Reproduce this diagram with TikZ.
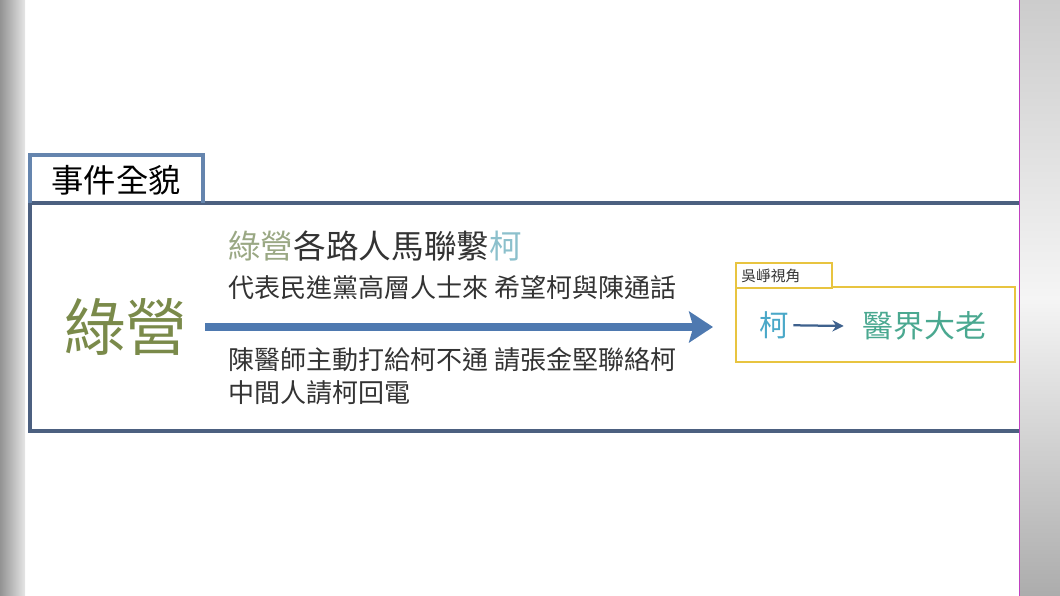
\documentclass[tikz,border=0pt]{standalone}
\usepackage{fontspec}
\setmainfont{Noto Sans CJK TC}
\usetikzlibrary{arrows.meta,positioning}

\definecolor{frameblue}{HTML}{4C6080}
\definecolor{tabblue}{HTML}{6585AE}
\definecolor{arrowblue}{HTML}{4E79B0}
\definecolor{olive}{HTML}{7A8A4A}
\definecolor{paleolive}{HTML}{9AA884}
\definecolor{palecyan}{HTML}{8CC0CC}
\definecolor{kocyan}{HTML}{4AA8C8}
\definecolor{docgreen}{HTML}{4AA890}
\definecolor{gold}{HTML}{E8C440}
\definecolor{textgray}{HTML}{333333}
\definecolor{edgepink}{HTML}{C040C0}

\tikzset{
    line/.style={inner sep=0pt, anchor=west, text=textgray},
    goldbox/.style={draw=gold, line width=1.8pt},
}

\begin{document}
\begin{tikzpicture}[x=0.025cm,y=-0.025cm]
    \useasboundingbox (0,0) rectangle (1060,596);
    % side strips
    \shade[left color=gray!85, right color=gray!20] (0,0) rectangle (25,596);
    \shade[top color=gray!40, bottom color=gray!65, middle color=gray!8] (1020,0) rectangle (1060,596);
    \draw[edgepink, line width=1pt] (1019.5,0) -- (1019.5,596);

    % frame and tab
    \draw[frameblue, line width=2.6pt] (1019,203) -- (30,203) -- (30,431) -- (1019,431);
    \draw[tabblue, line width=2.6pt] (30,203) -- (30,155) -- (203,155) -- (203,203);
    \node (tab) at (116,180) {\fontsize{23}{23}\selectfont 事件全貌};

    % left side
    \node[text=olive] (green) at (126,327) {\fontsize{44}{44}\selectfont 綠營};
    \coordinate (tip) at (713,327);
    \draw[arrowblue, line width=5pt, -{Stealth[length=17pt, width=22pt, inset=3pt]}]
        (205,327) -- (tip);

    \node[line] (head) at (228,246) {\fontsize{23.2}{23.2}\selectfont
        \textcolor{paleolive}{綠營}各路人馬聯繫\textcolor{palecyan}{柯}};
    \node[line] (above) at (228,288) {\fontsize{18.5}{18.5}\selectfont 代表民進黨高層人士來 希望柯與陳通話};
    \node[line] (below) at (228,360) {\fontsize{18.5}{18.5}\selectfont 陳醫師主動打給柯不通 請張金堅聯絡柯};
    \node[line] (middle) at (228,393) {\fontsize{18.5}{18.5}\selectfont 中間人請柯回電};

    % view box
    \draw[goldbox] (736,287) rectangle (1015,362);
    \draw[goldbox, fill=white] (736,263) rectangle (832,288);
    \node[line] (view) at (741,275.5) {\fontsize{10.5}{10.5}\selectfont 吳崢視角};
    \node[text=kocyan, inner sep=0pt] (ko) at (774,325) {\fontsize{21}{21}\selectfont 柯};
    \node[text=docgreen, inner sep=0pt, anchor=west] (elders) at (862,326) {\fontsize{22}{22}\selectfont 醫界大老};
    \draw[arrowblue!80!black, line width=1.6pt, shorten <=3pt, -{Stealth[length=8pt, width=8pt]}]
        (ko) -- ([xshift=-13]elders.west);
\end{tikzpicture}
\end{document}
